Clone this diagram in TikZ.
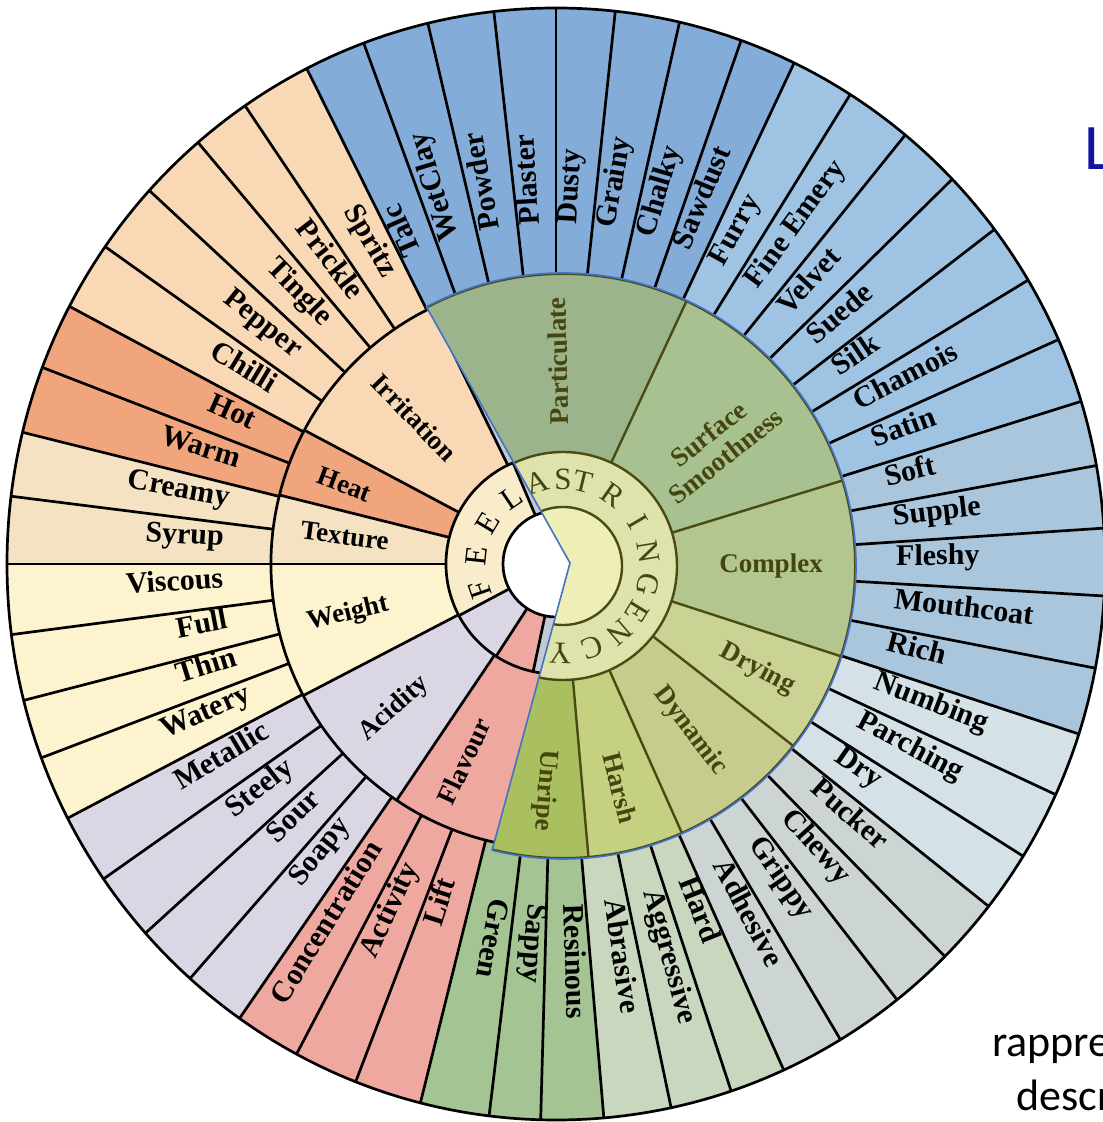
\documentclass[tikz,border=0pt]{standalone}
\usepackage{fontspec}
\setmainfont{Liberation Serif}
\newfontfamily\slidefont{Carlito}
\definecolor{irr}{HTML}{F9D9B5}
\definecolor{heat}{HTML}{F0A57D}
\definecolor{tex}{HTML}{F4E2C3}
\definecolor{wgt}{HTML}{FDF4CF}
\definecolor{acid}{HTML}{DBD6E4}
\definecolor{flav}{HTML}{EEA89F}
\definecolor{feel}{HTML}{F8ECCB}
\definecolor{part}{HTML}{84ACD9}
\definecolor{surf}{HTML}{9EC3E3}
\definecolor{comp}{HTML}{AAC6DC}
\definecolor{dry}{HTML}{D4E1E7}
\definecolor{dyn}{HTML}{CCD5D4}
\definecolor{harsh}{HTML}{CAD7BF}
\definecolor{unr}{HTML}{A4C494}
\definecolor{oPart}{HTML}{9BB48B}
\definecolor{oSurf}{HTML}{A8C190}
\definecolor{oComp}{HTML}{B4C68F}
\definecolor{oDry}{HTML}{CAD294}
\definecolor{oDyn}{HTML}{C7CC8D}
\definecolor{oHarsh}{HTML}{C5D081}
\definecolor{oUnr}{HTML}{AABF5F}
\definecolor{oRing}{HTML}{DEE3AB}
\definecolor{oIn}{HTML}{EEEFB6}
\definecolor{olivedk}{HTML}{4A4A14}
\definecolor{olivetxt}{HTML}{45450F}
\definecolor{basegray}{HTML}{C3CAD3}
\definecolor{slideblue}{RGB}{20,20,160}
\definecolor{outlineblue}{HTML}{4472C4}
\tikzset{
  sepline/.style={line width=2.7pt, draw=black},
  oline/.style={line width=2.4pt, draw=olivedk},
  blueline/.style={line width=1.6pt, draw=outlineblue},
  lblout/.style={font=\fontsize{30}{32}\selectfont\bfseries, inner sep=0pt, text=black},
  lblmid/.style={font=\fontsize{27}{28}\selectfont\bfseries, inner sep=0pt, text=black, align=center},
  lblast/.style={lblmid, text=olivetxt},
  ringletter/.style={font=\fontsize{31}{32}\selectfont, inner sep=0pt},
}
\def\outerlist{3.7/10.2/comp/Supple/R,10.2/17/comp/Soft/R,17/23.8/surf/Satin/R,23.8/30.7/surf/Chamois/R,30.7/37/surf/Silk/R,37/43.8/surf/Suede/R,43.8/50.5/surf/Velvet/R,50.5/57.6/surf/Fine Emery/R,57.6/64.3/surf/Furry/R,64.3/70.3/part/Sawdust/R,70.3/77/part/Chalky/R,77/83.8/part/Grainy/R,83.8/90/part/Dusty/R,90/96.5/part/Plaster/R,96.5/103.5/part/Powder/R,103.5/110.5/part/WetClay/R,110.5/117/part/Talc/R,117/124.5/irr/Spritz/L,124.5/130.7/irr/Prickle/L,130.7/137.8/irr/Tingle/L,137.8/145.2/irr/Pepper/L,145.2/152.4/irr/Chilli/L,152.4/159.3/heat/Hot/L,159.3/166.3/heat/Warm/L,166.3/173/tex/Creamy/L,173/180/tex/Syrup/L,180/187.3/wgt/Viscous/L,187.3/194.2/wgt/Full/L,194.2/200.4/wgt/Thin/L,200.4/207.2/wgt/Watery/L,207.2/214.5/acid/Metallic/L,214.5/221.6/acid/Steely/L,221.6/228.2/acid/Sour/L,228.2/234.8/acid/Soapy/L,234.8/241.8/flav/Concentration/L,241.8/248.6/flav/Activity/L,248.6/255.7/flav/Lift/L,255.7/263/unr/Green/R,263/268.4/unr/Sappy/R,268.4/275/unr/Resinous/R,275/282.1/harsh/Abrasive/R,282.1/288.6/harsh/Aggressive/R,288.6/294.5/harsh/Hard/R,294.5/301.2/dyn/Adhesive/R,301.2/308.4/dyn/Grippy/R,308.4/315.1/dyn/Chewy/R,315.1/322/dyn/Pucker/R,322/328.3/dry/Dry/R,328.3/335.5/dry/Parching/R,335.5/342.2/dry/Numbing/R,342.2/349.2/comp/Rich/R,349.2/356.7/comp/Mouthcoat/R,356.7/363.7/comp/Fleshy/R}
\begin{document}
\begin{tikzpicture}[x=1pt,y=1pt]
\useasboundingbox (0,0) rectangle (1103,1122);
\clip (0,0) rectangle (1103,1122);
\fill[white] (0,0) rectangle (1103,1122);
\coordinate (O) at (556,558);
\coordinate (A) at (563,556);
\coordinate (P) at (570,559);
\coordinate (T) at ([shift={(A)}]117.8:293pt);
\coordinate (B) at ([shift={(A)}]256:293pt);

% ---------- outer tier ----------
\fill[basegray] (O) ellipse[x radius=549pt, y radius=556pt];
\foreach \angA/\angB/\col/\txt/\side in \outerlist {
  \fill[fill=\col] ([shift={(O)}]\angA:250pt) arc[start angle=\angA, end angle=\angB, radius=250pt]
    -- ([shift={(O)}]\angB:549pt and 556pt) arc[start angle=\angB, end angle=\angA, x radius=549pt, y radius=556pt] -- cycle;
}
\foreach \angA/\angB/\col/\txt/\side in \outerlist {
  \draw[sepline] ([shift={(O)}]\angA:270pt) -- ([shift={(O)}]\angA:549pt and 556pt);
}
\draw[sepline] (O) ellipse[x radius=549pt, y radius=556pt];
\fill[basegray] (O) circle[radius=285pt];

% ---------- FEEL side, tier 2 and tier 1 ----------
\foreach \angA/\angB/\col in {116/152/irr,152/166/heat,166/180/tex,180/207.5/wgt,207.5/236/acid,236/262/flav}
  \fill[fill=\col] ([shift={(O)}]\angA:110pt) arc[start angle=\angA, end angle=\angB, radius=110pt]
    -- ([shift={(O)}]\angB:285pt) arc[start angle=\angB, end angle=\angA, radius=285pt] -- cycle;
\foreach \angA/\angB/\col in {113/208/feel,208/237/acid,237/258/flav}
  \fill[fill=\col] ([shift={(O)}]\angA:53pt) arc[start angle=\angA, end angle=\angB, radius=53pt]
    -- ([shift={(O)}]\angB:110pt) arc[start angle=\angB, end angle=\angA, radius=110pt] -- cycle;
\foreach \angA in {116,152,166,180,207.5,236}
  \draw[sepline] ([shift={(O)}]\angA:110pt) -- ([shift={(O)}]\angA:285pt);
\foreach \angA in {113,208,237,258}
  \draw[sepline] ([shift={(O)}]\angA:53pt) -- ([shift={(O)}]\angA:110pt);
\draw[sepline] ([shift={(O)}]116:285pt) arc[start angle=116, end angle=262, radius=285pt];
\draw[sepline] ([shift={(O)}]113:110pt) arc[start angle=113, end angle=262, radius=110pt];
\fill[white] (O) circle[radius=53pt];
\draw[sepline] (O) circle[radius=53pt];

\foreach \ang/\ch [count=\i] in {199/F,174/E,149/E,124/L} {
  \pgfmathsetmacro\rr{\ang-90}
  \node[ringletter, rotate=\rr] (feel\i) at ([shift={(O)}]\ang:80pt) {\ch};
}
\node[lblmid, rotate=-46]  (irrit) at ([shift={(O)}]134:204pt) {Irritation};
\node[lblmid, rotate=-20.6] (heatl) at ([shift={(O)}]159.4:226pt) {Heat};
\node[lblmid, rotate=-7.6] (textl) at ([shift={(O)}]172.4:213pt) {Texture};
\node[lblmid, rotate=13.5] (wgtl) at ([shift={(O)}]193.5:214pt) {Weight};
\node[lblmid, rotate=41.8] (acidl) at ([shift={(O)}]221.8:217pt) {Acidity};
\node[lblmid, rotate=65]   (flavl) at ([shift={(O)}]245:218pt) {Flavour};

% ---------- astringency overlay ----------
\begin{scope}
\clip (P) -- (T) arc[start angle=117.8, end angle=-104, radius=293pt] -- cycle;
\foreach \angA/\angB/\col in {65/150/oPart,17/65/oSurf,-18/17/oComp,-38/-18/oDry,-66/-38/oDyn,-85/-66/oHarsh,-140/-85/oUnr}
  \fill[fill=\col] ([shift={(A)}]\angA:100pt) arc[start angle=\angA, end angle=\angB, radius=100pt]
    -- ([shift={(A)}]\angB:300pt) arc[start angle=\angB, end angle=\angA, radius=300pt] -- cycle;
\fill[oRing] (A) circle[radius=114pt];
\fill[oIn] (A) circle[radius=59pt];
\foreach \angA in {65,17,-18,-38,-66,-85}
  \draw[oline] ([shift={(A)}]\angA:114pt) -- ([shift={(A)}]\angA:293pt);
\draw[oline] (A) circle[radius=59pt];
\draw[oline] (A) circle[radius=114pt];
\draw[oline, line width=4pt] (A) circle[radius=293pt];
\foreach \ang/\ch [count=\i] in {107/A,90/S,76.5/T,55/R,30.6/I,9.5/N,-12.6/G,-31.7/E,-49.4/N,-70.2/C,-92/Y} {
  \pgfmathsetmacro\rr{\ang-90}
  \node[ringletter, text=olivetxt, rotate=\rr] (ast\i) at ([shift={(A)}]\ang:87pt) {\ch};
}
\end{scope}
\draw[blueline] (P) -- (T) arc[start angle=117.8, end angle=-104, radius=293pt] -- cycle;

\node[lblast, rotate=91.4]  (partl) at ([shift={(A)}]91.4:205pt) {Particulate};
\node[lblast, rotate=38.2]  (surfl) at ([shift={(A)}]38.2:196pt) {Surface\\Smoothness};
\node[lblast, rotate=0]     (compl) at ([shift={(A)}]0:208pt) {Complex};
\node[lblast, rotate=-28]   (dryl)  at ([shift={(A)}]-28:220pt) {Drying};
\node[lblast, rotate=-52.4] (dynl)  at ([shift={(A)}]-52.4:208pt) {Dynamic};
\node[lblast, rotate=-75.6] (harl)  at ([shift={(A)}]-75.6:229pt) {Harsh};
\node[lblast, rotate=-94.6] (unrl)  at ([shift={(A)}]-94.6:225pt) {Unripe};

% ---------- outer labels ----------
\foreach \angA/\angB/\col/\txt/\side [count=\i] in \outerlist {
  \pgfmathsetmacro\midang{(\angA+\angB)/2}
  \pgfmathsetmacro\rotl{\midang+180}
  \if\side R
    \node[lblout, rotate=\midang, anchor=mid west] (out\i) at ([shift={(O)}]\midang:340pt) {\txt};
  \else
    \node[lblout, rotate=\rotl, anchor=mid east] (out\i) at ([shift={(O)}]\midang:333pt) {\txt};
  \fi
}

% ---------- slide text fragments ----------
\node[anchor=base west, inner sep=0pt, font=\slidefont\fontsize{65}{70}\selectfont, text=slideblue] (slideL) at (1084,952) {L};
\node[anchor=base west, inner sep=0pt, font=\slidefont\fontsize{44}{48}\selectfont] (rap) at (992,65) {rappre};
\node[anchor=base west, inner sep=0pt, font=\slidefont\fontsize{44}{48}\selectfont] (desc) at (1016,12) {descr};
\end{tikzpicture}
\end{document}
